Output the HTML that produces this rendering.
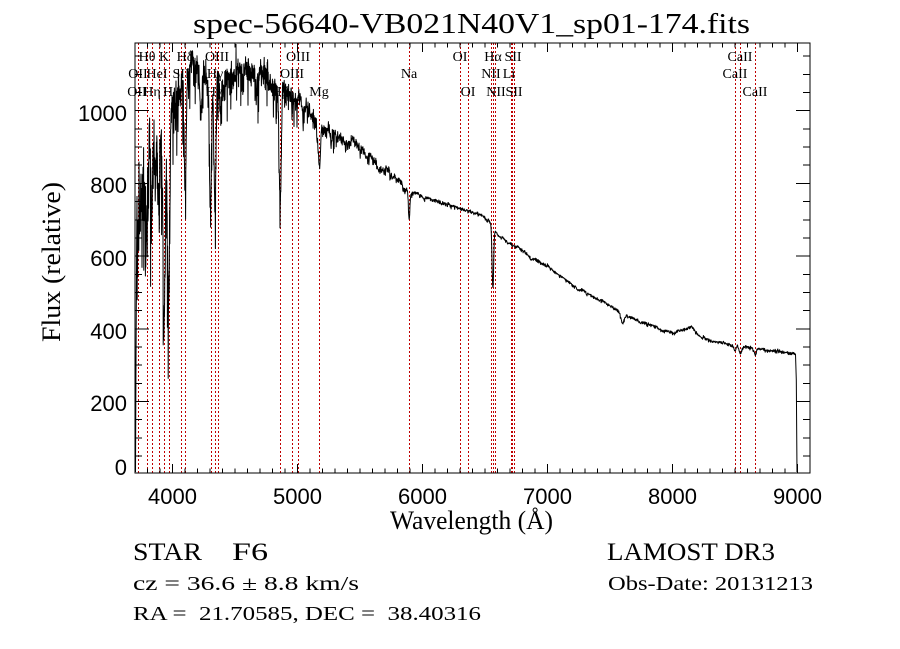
<!DOCTYPE html>
<html>
<head>
<meta charset="utf-8">
<style>
html,body{margin:0;padding:0;background:#fff;width:900px;height:649px;overflow:hidden}
svg{display:block}
.t{font-family:"Liberation Serif",serif;fill:#000}
.n{font-family:"Liberation Sans",sans-serif;fill:#000;font-size:22px}
.l{font-family:"Liberation Serif",serif;font-size:14px;fill:#000;text-anchor:middle}
.pre{white-space:pre}
</style>
</head>
<body>
<svg id="s" width="900" height="649" viewBox="0 0 900 649" xmlns="http://www.w3.org/2000/svg">
<rect width="900" height="649" fill="#fff"/>
<defs><clipPath id="c"><rect x="135" y="43" width="675" height="430"/></clipPath></defs>

<g id="red" stroke="#c00000" stroke-width="1" stroke-dasharray="2,2" fill="none" shape-rendering="crispEdges"></g>

<g>
<text class="l" x="147" y="61">Hθ</text>
<text class="l" x="164" y="61">K</text>
<text class="l" x="185" y="61">Hδ</text>
<text class="l" x="217" y="61">OIII</text>
<text class="l" x="298" y="61">OIII</text>
<text class="l" x="460" y="61">OI</text>
<text class="l" x="493" y="61">Hα</text>
<text class="l" x="513" y="61">SII</text>
<text class="l" x="740" y="61">CaII</text>

<text class="l" x="138" y="78">OII</text>
<text class="l" x="157" y="78">HeI</text>
<text class="l" x="181" y="78">SII</text>
<text class="l" x="215" y="78">Hγ</text>
<text class="l" x="292" y="78">OIII</text>
<text class="l" x="409" y="78">Na</text>
<text class="l" x="491" y="78">NII</text>
<text class="l" x="509" y="78">Li</text>
<text class="l" x="735" y="78">CaII</text>

<text class="l" x="137" y="96">OII</text>
<text class="l" x="152" y="96">Hη</text>
<text class="l" x="168" y="96">H</text>
<text class="l" x="214" y="96">Hγ</text>
<text class="l" x="280" y="96">Hβ</text>
<text class="l" x="319" y="96">Mg</text>
<text class="l" x="468" y="96">OI</text>
<text class="l" x="496" y="96">NII</text>
<text class="l" x="514" y="96">SII</text>
<text class="l" x="755" y="96">CaII</text>
</g>

<path id="spec" clip-path="url(#c)" fill="none" stroke="#000" stroke-width="1" stroke-linejoin="round"/>

<rect x="135" y="43" width="675" height="430" fill="none" stroke="#000" stroke-width="1" shape-rendering="crispEdges"/>
<path id="ticks" stroke="#000" stroke-width="1" fill="none" shape-rendering="crispEdges"/>

<text class="t" x="193" y="33" font-size="28" textLength="557" lengthAdjust="spacingAndGlyphs">spec-56640-VB021N40V1_sp01-174.fits</text>

<text class="n" x="127" y="121" text-anchor="end">1000</text>
<text class="n" x="127" y="193" text-anchor="end">800</text>
<text class="n" x="127" y="266" text-anchor="end">600</text>
<text class="n" x="127" y="339" text-anchor="end">400</text>
<text class="n" x="127" y="411" text-anchor="end">200</text>
<text class="n" x="127" y="475" text-anchor="end">0</text>

<text class="n" x="172.5" y="504" text-anchor="middle">4000</text>
<text class="n" x="297.5" y="504" text-anchor="middle">5000</text>
<text class="n" x="422.5" y="504" text-anchor="middle">6000</text>
<text class="n" x="547.5" y="504" text-anchor="middle">7000</text>
<text class="n" x="672.5" y="504" text-anchor="middle">8000</text>
<text class="n" x="797.5" y="504" text-anchor="middle">9000</text>

<text class="t" x="390" y="529" font-size="26" textLength="163" lengthAdjust="spacingAndGlyphs">Wavelength (Å)</text>
<text class="t" font-size="26" text-anchor="middle" transform="translate(60,262) rotate(-90)" textLength="160" lengthAdjust="spacingAndGlyphs">Flux (relative)</text>

<text class="t" x="133" y="560" font-size="25" textLength="69" lengthAdjust="spacingAndGlyphs">STAR</text>
<text class="t" x="232" y="560" font-size="25" textLength="36" lengthAdjust="spacingAndGlyphs">F6</text>
<text class="t" x="607" y="560" font-size="25" textLength="168" lengthAdjust="spacingAndGlyphs">LAMOST DR3</text>
<text class="t pre" x="133" y="590" font-size="20" textLength="226" lengthAdjust="spacingAndGlyphs">cz = 36.6 ± 8.8 km/s</text>
<text class="t pre" x="608" y="590" font-size="20" textLength="205" lengthAdjust="spacingAndGlyphs">Obs-Date: 20131213</text>
<text class="t pre" x="133" y="620" font-size="20" textLength="348" lengthAdjust="spacingAndGlyphs">RA =  21.70585, DEC =  38.40316</text>
</svg>

<script>
(function(){
  var X0=135, K=0.125;
  function xl(l){return X0+(l-3700)*K;}
  function interp(p,x){
    if(x<=p[0][0]) return p[0][1];
    for(var i=1;i<p.length;i++){
      if(x<=p[i][0]){var a=p[i-1],b=p[i];return a[1]+(b[1]-a[1])*(x-a[0])/(b[0]-a[0]);}
    }
    return p[p.length-1][1];
  }
  var s=20131213;
  function R(){s=(Math.imul(s,1664525)+1013904223)>>>0;return s/4294967296;}

  var lams=[3727,3798,3835,3889,3934,3968,4068,4102,4304,4340,4363,4861,4959,5007,5175,5893,6300,6364,6548,6563,6583,6708,6717,6731,8498,8542,8662];
  var rd='';
  for(var i=0;i<lams.length;i++){var x=Math.round(xl(lams[i]))+0.5;rd+='M'+x+',43V473';}
  var rp=document.createElementNS('http://www.w3.org/2000/svg','path');
  rp.setAttribute('d',rd);
  document.getElementById('red').appendChild(rp);

  var td='';
  for(var l=3800;l<=9000;l+=100){
    var x=X0+(l-3700)*K; var len=(l%1000===0)?9:4.5;
    td+='M'+x+',473V'+(473-len)+'M'+x+',43V'+(43+len);
  }
  for(var v=50;v<=1150;v+=50){
    var y=474.2-v*0.3635; var len2=(v%200===0)?14:7;
    td+='M135,'+y+'H'+(135+len2)+'M810,'+y+'H'+(810-len2);
  }
  document.getElementById('ticks').setAttribute('d',td);

  var M=[[137,215],[140,180],[145,140],[150,125],[156,120],[162,120],[168,118],[172,98],[178,86],[185,76],[190,64],[196,68],[205,76],[212,75],[222,74],[232,71],[242,68],[255,68],[266,70],[273,75],[279,84],[285,90],[295,95],[305,104],[315,114],[325,125],[340,135],[355,143],[368,153],[380,165],[395,178],[410,190],[430,199],[460,207],[480,215],[490,221],[498,235],[510,243],[525,251],[547,265],[565,279],[585,292],[605,302],[620,312],[640,321],[660,329],[675,333],[684,329],[692,326],[700,336],[720,343],[740,346],[760,349],[780,351],[795,354]];
  var A=[[137,55],[170,55],[176,28],[200,20],[276,18],[290,14],[325,11],[360,8],[400,5],[420,3],[480,2.2],[800,2.2]];
  var L=[[xl(3798),40,0.8],[xl(3835),60,0.8],[xl(3889),70,0.8],[xl(3934),190,1.0],[xl(3968),180,1.0],
         [xl(4102),100,1.0],[xl(4226),30,0.8],[xl(4304),125,1.0],[xl(4340),130,1.0],[xl(4383),30,0.8],
         [xl(4861),115,1.0],[xl(5175),40,1.2],[xl(5270),15,0.8],[xl(5893),30,0.8],[xl(6563),62,0.8],
         [xl(6870),4,1.5],[xl(7600),8,1.5],[xl(8498),5,1],[xl(8542),6,1],[xl(8662),6,1]];
  var pts=[[135.5,472],[136,360],[136.6,250]];
  var w=0;
  var x=137;
  while(x<=795.6){
    var a=interp(A,x), m=interp(M,x);
    w=0.9*w+0.45*(R()+R()+R()-1.5);
    var y=m+a*(0.5*(R()+R()+R()-1.5)+1.2*R()*R())+w*a*0.6;
    if(x<340 && R()<0.1) y+=R()*a*2;
    for(var j=0;j<L.length;j++){
      var t=(x-L[j][0])/L[j][2];
      if(t*t<16) y+=L[j][1]*Math.exp(-t*t/2);
    }
    if(Math.abs(x-236)<0.11) y=44;
    if(y<46) y=46+R()*4;
    pts.push([x,y]);
    x+= (x<300)?0.2:0.3;
  }
  pts.push([796.3,380],[797,472]);
  var d='M'+pts[0][0]+','+pts[0][1];
  for(var k=1;k<pts.length;k++) d+='L'+pts[k][0].toFixed(2)+','+pts[k][1].toFixed(1);
  d+='M236,44L236.2,70';
  document.getElementById('spec').setAttribute('d',d);
})();
</script>
</body>
</html>
